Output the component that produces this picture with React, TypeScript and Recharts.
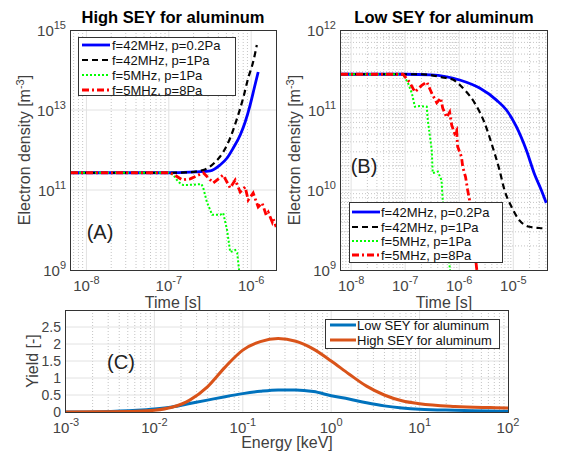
import { ReactElement } from 'react'
import { CartesianGrid, Line, LineChart, XAxis, YAxis } from 'recharts'

const FONT = '"Liberation Sans", Arial, Helvetica, sans-serif'
const INK = '#333333'
const GRID = '#e2e2e2'
const MINOR = '#c4c4c4'

// (A) High SEY: time [s] vs electron density [m^-3]
const highBlueT = [6.5e-9, 1e-7, 1.5e-7, 2.2e-7, 3.18e-7, 4.18e-7, 5.1e-7, 6.06e-7, 7.36e-7, 8.45e-7, 9.7e-7, 1.09e-6, 1.216e-6]
const highBlueN = [2.7e11, 2.7e11, 2.75e11, 2.85e11, 3.0e11, 4.2e11, 6.3e11, 1.12e12, 2.37e12, 5e12, 1.33e13, 3.55e13, 8.9e13]
const highBlackT = [6.5e-9, 1e-7, 1.6e-7, 2.62e-7, 3.66e-7, 4.57e-7, 5.56e-7, 6.76e-7, 8e-7, 9.2e-7, 1.057e-6, 1.17e-6]
const highBlackN = [2.7e11, 2.7e11, 2.75e11, 3.16e11, 5e11, 8.9e11, 2e12, 6.3e12, 2e13, 6.3e13, 1.6e14, 4.2e14]
const highGreenT = [6.5e-9, 1e-7, 1.13e-7, 1.3e-7, 1.49e-7, 1.98e-7, 2.49e-7, 2.62e-7, 2.9e-7, 3.36e-7, 4.2e-7, 4.57e-7, 5.1e-7, 5.56e-7, 6.4e-7, 6.76e-7, 7.4e-7]
const highGreenN = [2.7e11, 2.7e11, 2.4e11, 1.6e11, 1.33e11, 1.35e11, 1.41e11, 1.12e11, 5e10, 2.4e10, 2.4e10, 2.66e10, 1e10, 2.8e9, 3.16e9, 2.66e9, 5e8]
const highRedT = [6.5e-9, 1e-7, 1.13e-7, 1.46e-7, 1.82e-7, 2.62e-7, 3.47e-7, 4.57e-7, 5.56e-7, 6.4e-7, 7.36e-7, 8.45e-7, 9.2e-7, 1.057e-6, 1.216e-6, 1.36e-6, 1.52e-6, 1.61e-6, 1.8e-6, 1.85e-6, 2.01e-6]
const highRedN = [2.7e11, 2.7e11, 2.5e11, 1.78e11, 1.9e11, 2.7e11, 1.5e11, 2.37e11, 1.12e11, 1.78e11, 8.9e10, 1.19e11, 5.6e10, 8.4e10, 3.76e10, 4.7e10, 2.37e10, 2.8e10, 1.58e10, 1.9e10, 1.19e10]

// (B) Low SEY
const lowBlueT = [6.5e-9, 1e-7, 3e-7, 1.02e-6, 2.38e-6, 4.89e-6, 7.47e-6, 1.14e-5, 1.74e-5, 2.45e-5, 3.29e-5, 4.07e-5]
const lowBlueN = [2.8e11, 2.8e11, 2.75e11, 2.37e11, 1.88e11, 1.33e11, 1e11, 6.2e10, 3.16e10, 1.6e10, 1e10, 6.9e9]
const lowBlackT = [6.5e-9, 2e-7, 4.94e-7, 7.55e-7, 1.26e-6, 1.92e-6, 2.94e-6, 4.12e-6, 5.55e-6, 6.86e-6, 9.22e-6, 1.29e-5, 1.98e-5, 3.03e-5, 4.07e-5]
const lowBlackN = [2.8e11, 2.8e11, 2.55e11, 2.4e11, 1.78e11, 1.23e11, 6.9e10, 3.5e10, 1.78e10, 1e10, 6.2e9, 4.2e9, 3.47e9, 3.35e9, 3.3e9]
const lowGreenT = [6.5e-9, 9.1e-8, 1.12e-7, 1.33e-7, 1.51e-7, 1.86e-7, 2.51e-7, 2.62e-7, 3.1e-7, 3.23e-7, 4.01e-7, 4.7e-7, 4.94e-7, 6.65e-7, 7e-7]
const lowGreenN = [2.8e11, 2.8e11, 2.2e11, 1.62e11, 1.1e11, 1.12e11, 1.1e11, 7.5e10, 3.16e10, 1.62e10, 1.7e10, 1.33e10, 7.5e9, 1.1e9, 8e8]
const lowRedT = [6.5e-9, 9.1e-8, 1.22e-7, 1.51e-7, 2.03e-7, 2.51e-7, 3.1e-7, 3.84e-7, 4.54e-7, 4.94e-7, 5.86e-7, 6.65e-7, 7.24e-7, 8.22e-7, 8.95e-7, 9.33e-7, 1.1e-6, 1.16e-6, 1.31e-6, 1.43e-6, 1.55e-6, 2.09e-6, 2.2e-6]
const lowRedN = [2.8e11, 2.8e11, 2.2e11, 1.68e11, 2.04e11, 2.24e11, 1.62e11, 1.23e11, 1.41e11, 1.06e11, 8.1e10, 9.4e10, 6.5e10, 5.1e10, 5.6e10, 3.5e10, 2.6e10, 1.95e10, 1.45e10, 1e10, 7.5e9, 1.07e9, 8e8]

// (C) yield vs energy [keV]
const energy = [0.001, 0.0025, 0.0063, 0.01, 0.0158, 0.0251, 0.0398, 0.0631, 0.1, 0.158, 0.251, 0.398, 0.631, 1, 1.585, 2.512, 3.981, 6.31, 10, 25.1, 63.1, 100]
const yieldLow = [0, 0.01, 0.05, 0.09, 0.15, 0.25, 0.35, 0.45, 0.54, 0.61, 0.65, 0.65, 0.6, 0.48, 0.38, 0.27, 0.18, 0.12, 0.08, 0.05, 0.03, 0.02]
const yieldHigh = [0, 0.005, 0.02, 0.05, 0.14, 0.35, 0.74, 1.32, 1.82, 2.07, 2.16, 2.08, 1.85, 1.5, 1.12, 0.76, 0.5, 0.33, 0.24, 0.16, 0.13, 0.12]

const legendLabels = ['f=42MHz, p=0.2Pa', 'f=42MHz, p=1Pa', 'f=5MHz, p=1Pa', 'f=5MHz, p=8Pa']
const yieldLabels = ['Low SEY for aluminum', 'High SEY for aluminum']

type P = { t: number; n: number }
const pts = (ts: number[], ns: number[]): P[] => ts.map((t, i) => ({ t, n: ns[i] }))

const lineStyles = [
  { stroke: '#0000ff', strokeWidth: 2.8, dash: undefined },
  { stroke: '#000000', strokeWidth: 2.2, dash: '6 4' },
  { stroke: '#00ff00', strokeWidth: 2, dash: '2 2' },
  { stroke: '#ff0000', strokeWidth: 2.8, dash: '7 3 2 3' },
]

function logValues(lo: number, hi: number, minor: boolean): number[] {
  const out: number[] = []
  for (let k = Math.floor(Math.log10(lo)); k <= Math.ceil(Math.log10(hi)); k++) {
    const ms = minor ? [2, 3, 4, 5, 6, 7, 8, 9] : [1]
    for (const m of ms) {
      const v = m * Math.pow(10, k)
      if (v > lo * 1.0001 && v < hi * 0.9999) out.push(v)
    }
  }
  return out
}

function PowTick(props: any) {
  const { x, y, payload, axis } = props
  const e = Math.round(Math.log10(payload.value))
  if (axis === 'x') {
    return (
      <text x={x} y={y + 21} textAnchor="middle" fontSize={15} fill="#444" fontFamily={FONT}>
        10<tspan dy={-7} fontSize={11}>{e}</tspan>
      </text>
    )
  }
  return (
    <text x={x - 5} y={y + 6} textAnchor="end" fontSize={15} fill="#444" fontFamily={FONT}>
      10<tspan dy={-7} fontSize={11}>{e}</tspan>
    </text>
  )
}

function NumTick(props: any) {
  const { x, y, payload } = props
  return (
    <text x={x - 5} y={y + 5} textAnchor="end" fontSize={14} fill="#444" fontFamily={FONT}>
      {payload.value}
    </text>
  )
}

function DensityChart(props: {
  w: number
  left: number
  right: number
  yw: number
  xDomain: [number, number]
  xTicks: number[]
  yDomain: [number, number]
  yTicks: number[]
  yMinor: boolean
  series: P[][]
}): ReactElement {
  const { w, left, right, yw, xDomain, xTicks, yDomain, yTicks, yMinor, series } = props
  return (
    <LineChart width={w} height={300} margin={{ top: 30, right, bottom: 0, left }}>
      <CartesianGrid
        horizontal={yMinor}
        verticalValues={logValues(xDomain[0], xDomain[1], true)}
        horizontalValues={logValues(yDomain[0], yDomain[1], true)}
        stroke={MINOR}
        strokeDasharray="1 2"
      />
      <CartesianGrid
        verticalValues={xTicks.filter((v) => v > xDomain[0] && v < xDomain[1])}
        horizontalValues={yTicks.filter((v) => v > yDomain[0] && v < yDomain[1])}
        stroke={GRID}
      />
      <XAxis
        type="number"
        dataKey="t"
        scale="log"
        domain={xDomain}
        allowDataOverflow
        ticks={xTicks}
        interval={0}
        tick={<PowTick axis="x" />}
        tickLine={false}
        axisLine={false}
        tickSize={0}
        tickMargin={0}
        height={30}
      />
      <YAxis
        type="number"
        scale="log"
        domain={yDomain}
        allowDataOverflow
        ticks={yTicks}
        interval={0}
        tick={<PowTick axis="y" />}
        tickLine={false}
        axisLine={false}
        tickSize={0}
        tickMargin={0}
        width={yw}
      />
      {series.map((d, i) => (
        <Line
          key={i}
          data={d}
          dataKey="n"
          type={i < 2 ? 'monotone' : 'linear'}
          stroke={lineStyles[i].stroke}
          strokeWidth={lineStyles[i].strokeWidth}
          strokeDasharray={lineStyles[i].dash}
          dot={false}
          isAnimationActive={false}
        />
      ))}
    </LineChart>
  )
}

function Txt(props: { x: number; y: number; size?: number; bold?: boolean; rotate?: boolean; color?: string; children: any }) {
  const { x, y, size = 16, bold, rotate, color = '#404040', children } = props
  return (
    <div
      style={{
        position: 'absolute',
        left: x,
        top: y,
        transform: `translate(-50%, -50%)${rotate ? ' rotate(-90deg)' : ''}`,
        whiteSpace: 'nowrap',
        fontFamily: FONT,
        fontSize: size,
        fontWeight: bold ? 700 : 400,
        color,
        lineHeight: 1,
      }}
    >
      {children}
    </div>
  )
}

function Box(props: { x: number; y: number; w: number; h: number }) {
  return (
    <div
      style={{
        position: 'absolute',
        left: props.x,
        top: props.y,
        width: props.w,
        height: props.h,
        border: `1px solid ${INK}`,
        boxSizing: 'border-box',
        pointerEvents: 'none',
      }}
    />
  )
}

function LegendBox(props: {
  x: number
  y: number
  w: number
  h: number
  rows: number[]
  x1: number
  x2: number
  tx: number
  labels: string[]
  styles: { stroke: string; strokeWidth: number; dash?: string }[]
}): ReactElement {
  const { x, y, w, h, rows, x1, x2, tx, labels, styles } = props
  return (
    <svg style={{ position: 'absolute', left: x, top: y }} width={w} height={h}>
      <rect x={0.5} y={0.5} width={w - 1} height={h - 1} fill="#fff" stroke={INK} />
      {labels.map((lab, i) => (
        <g key={lab}>
          <line
            x1={x1}
            x2={x2}
            y1={rows[i]}
            y2={rows[i]}
            stroke={styles[i].stroke}
            strokeWidth={styles[i].strokeWidth}
            strokeDasharray={styles[i].dash}
          />
          <text x={tx} y={rows[i] + 4.5} fontSize={13} fontFamily={FONT} fill="#111">
            {lab}
          </text>
        </g>
      ))}
    </svg>
  )
}

export default function App(): ReactElement {
  const highSeries = [pts(highBlueT, highBlueN), pts(highBlackT, highBlackN), pts(highGreenT, highGreenN), pts(highRedT, highRedN)]
  const lowSeries = [pts(lowBlueT, lowBlueN), pts(lowBlackT, lowBlackN), pts(lowGreenT, lowGreenN), pts(lowRedT, lowRedN)]
  const lowYield = energy.map((e, i) => ({ e, y: yieldLow[i] }))
  const highYield = energy.map((e, i) => ({ e, y: yieldHigh[i] }))
  const cStyles = [
    { stroke: '#0072BD', strokeWidth: 3 },
    { stroke: '#D95319', strokeWidth: 3 },
  ]
  const eDomain: [number, number] = [1e-3, 1e2]
  const eTicks = [1e-3, 1e-2, 1e-1, 1, 10, 100]

  return (
    <div style={{ position: 'absolute', left: 0, top: 0, width: 563, height: 452, background: '#fff' }}>
      <div style={{ position: 'absolute', left: 0, top: 0 }}>
        <DensityChart
          w={290}
          left={11}
          right={14}
          yw={60}
          xDomain={[6.5e-9, 2e-6]}
          xTicks={[1e-8, 1e-7, 1e-6]}
          yDomain={[1e9, 1e15]}
          yTicks={[1e9, 1e11, 1e13, 1e15]}
          yMinor={false}
          series={highSeries}
        />
      </div>
      <div style={{ position: 'absolute', left: 280, top: 0 }}>
        <DensityChart
          w={283}
          left={6}
          right={16}
          yw={55}
          xDomain={[6.5e-9, 4.2e-5]}
          xTicks={[1e-8, 1e-7, 1e-6, 1e-5]}
          yDomain={[1e9, 1e12]}
          yTicks={[1e9, 1e10, 1e11, 1e12]}
          yMinor={true}
          series={lowSeries}
        />
      </div>
      <div style={{ position: 'absolute', left: 0, top: 300 }}>
        <LineChart width={563} height={152} margin={{ top: 10, right: 55, bottom: 15, left: 16 }}>
          <CartesianGrid
            horizontal={false}
            verticalValues={logValues(eDomain[0], eDomain[1], true)}
            stroke={MINOR}
            strokeDasharray="1 2"
          />
          <CartesianGrid verticalValues={[1e-2, 1e-1, 1, 10]} horizontalValues={[0.5, 1, 1.5, 2, 2.5]} stroke={GRID} />
          <XAxis
            type="number"
            dataKey="e"
            scale="log"
            domain={eDomain}
            allowDataOverflow
            ticks={eTicks}
            interval={0}
            tick={<PowTick axis="x" />}
            tickLine={false}
            axisLine={false}
            tickSize={0}
            tickMargin={0}
            height={25}
          />
          <YAxis
            type="number"
            domain={[0, 3]}
            allowDataOverflow
            ticks={[0, 0.5, 1, 1.5, 2, 2.5]}
            interval={0}
            tick={<NumTick />}
            tickLine={false}
            axisLine={false}
            tickSize={0}
            tickMargin={0}
            width={50}
          />
          <Line data={lowYield} dataKey="y" type="monotone" stroke={cStyles[0].stroke} strokeWidth={3} dot={false} isAnimationActive={false} />
          <Line data={highYield} dataKey="y" type="monotone" stroke={cStyles[1].stroke} strokeWidth={3} dot={false} isAnimationActive={false} />
        </LineChart>
      </div>

      <Box x={70} y={30} w={207} h={241} />
      <Box x={340} y={30} w={208} h={241} />
      <Box x={65} y={310} w={444} h={103} />

      <Txt x={173} y={17} size={16.5} bold color="#000">High SEY for aluminum</Txt>
      <Txt x={444} y={17} size={16.5} bold color="#000">Low SEY for aluminum</Txt>
      <Txt x={173} y={303}>Time [s]</Txt>
      <Txt x={444} y={303}>Time [s]</Txt>
      <Txt x={24} y={150} rotate>
        Electron density [m<sup style={{ fontSize: 11 }}>-3</sup>]
      </Txt>
      <Txt x={294} y={150} rotate>
        Electron density [m<sup style={{ fontSize: 11 }}>-3</sup>]
      </Txt>
      <Txt x={33} y={361} rotate>Yield [-]</Txt>
      <Txt x={287} y={443}>Energy [keV]</Txt>
      <Txt x={100} y={232} size={20} color="#222">(A)</Txt>
      <Txt x={364} y={166} size={20} color="#222">(B)</Txt>
      <Txt x={121} y={362} size={20} color="#222">(C)</Txt>

      <LegendBox x={78} y={37} w={158} h={59} rows={[8, 23, 38, 53]} x1={4} x2={32} tx={34} labels={legendLabels} styles={lineStyles} />
      <LegendBox x={349} y={202} w={154} h={61} rows={[10, 25, 39, 53]} x1={3} x2={31} tx={32} labels={legendLabels} styles={lineStyles} />
      <LegendBox x={325} y={319} w={175} h={30} rows={[6, 21]} x1={5} x2={31} tx={32} labels={yieldLabels} styles={cStyles} />
    </div>
  )
}
